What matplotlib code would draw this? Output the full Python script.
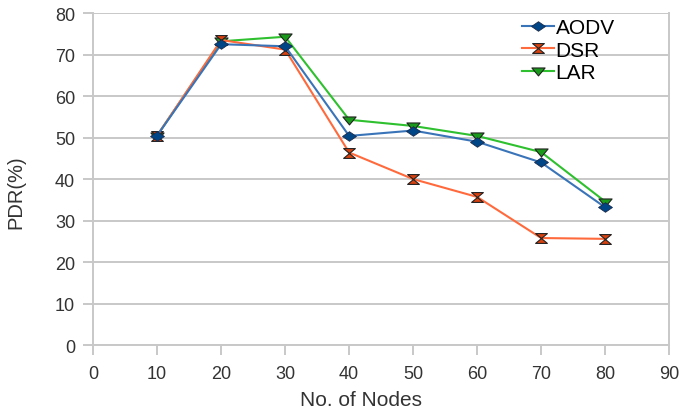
import numpy as np
import matplotlib
matplotlib.use("Agg")
import matplotlib.pyplot as plt
from matplotlib.path import Path

plt.rcParams['font.family'] = ['Liberation Sans', 'DejaVu Sans']

# data
nodes = [10, 20, 30, 40, 50, 60, 70, 80]
aodv = [50.5, 72.5, 72.0, 50.4, 51.7, 49.0, 44.0, 33.2]
dsr = [50.5, 73.5, 71.2, 46.4, 40.0, 35.7, 25.8, 25.6]
lar = [50.5, 73.2, 74.3, 54.3, 52.8, 50.4, 46.5, 34.6]

# marker shapes like the office chart ones (a bit wider than tall)
hourglass = Path([(-1.2, 1), (1.2, 1), (-1.2, -1), (1.2, -1), (-1.2, 1)],
                 [Path.MOVETO, Path.LINETO, Path.LINETO, Path.LINETO, Path.CLOSEPOLY])
diamond = Path([(0, 1), (1.45, 0), (0, -1), (-1.45, 0), (0, 1)],
               [Path.MOVETO, Path.LINETO, Path.LINETO, Path.LINETO, Path.CLOSEPOLY])
tri_down = Path([(-1.5, 0.8), (1.5, 0.8), (0, -1.0), (-1.5, 0.8)],
                [Path.MOVETO, Path.LINETO, Path.LINETO, Path.CLOSEPOLY])

fig = plt.figure(figsize=(6.8, 4.14), dpi=100)
ax = fig.add_axes([0.137, 0.164, 0.847, 0.802])

ax.plot(nodes, lar, color='#2ec02e', marker=tri_down, markersize=9.5,
        markerfacecolor='#1a9a1a', markeredgecolor='#222222', markeredgewidth=0.8,
        linewidth=1.5, label='LAR', zorder=3)
ax.plot(nodes, dsr, color='#ff6a3d', marker=hourglass, markersize=8.5,
        markerfacecolor='#d9410e', markeredgecolor='#222222', markeredgewidth=0.8,
        linewidth=1.5, label='DSR', zorder=4)
ax.plot(nodes, aodv, color='#3a74b8', marker=diamond, markersize=10,
        markerfacecolor='#004586', markeredgecolor='#1a2a4a', markeredgewidth=0.6,
        linewidth=1.5, label='AODV', zorder=5)

ax.set_xlim(0, 90)
ax.set_ylim(0, 80)
ax.set_xticks(np.arange(0, 91, 10))
ax.set_yticks(np.arange(0, 81, 10))
ax.grid(axis='y', color='#c8c8c8', linewidth=1.4)
ax.set_axisbelow(True)
for s in ax.spines.values():
    s.set_color('#c8c8c8')
    s.set_linewidth(1.4)
ax.spines['top'].set_visible(False)
ax.tick_params(colors='#c8c8c8', labelcolor='#333333', labelsize=13,
               length=7, width=1.4, direction='out')
ax.tick_params(axis='y', pad=6)
ax.tick_params(axis='x', pad=7)

ax.set_xlabel('No. of Nodes', fontsize=15, color='#333333')
ax.set_ylabel('PDR(%)', fontsize=14.5, color='#333333')
ax.xaxis.set_label_coords(0.465, -0.163)
ax.xaxis.label.set_verticalalignment('center')
ax.yaxis.set_label_coords(-0.135, 0.464)
ax.yaxis.label.set_verticalalignment('center')

h, l = ax.get_legend_handles_labels()
order = [2, 1, 0]
ax.legend([h[i] for i in order], [l[i] for i in order], loc='upper left',
          bbox_to_anchor=(0.745, 0.985), frameon=False, fontsize=15,
          handlelength=1.5, handletextpad=0.1, labelspacing=0.17,
          borderpad=0.0, borderaxespad=0.0)

fig.savefig('out.png', dpi=100)
